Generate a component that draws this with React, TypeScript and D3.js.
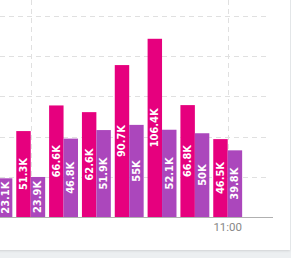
import React from "react";
import * as d3 from "d3";

const categories = ["09:50", "10:00", "10:10", "10:20", "10:30", "10:40", "10:50", "11:00"];
const seriesNames = ["inbound", "outbound"];
const inboundK = [45, 51.3, 66.6, 62.6, 90.7, 106.4, 66.8, 46.5];
const outboundK = [23.1, 23.9, 46.8, 51.9, 55, 52.1, 50, 39.8];
const yTicks = [0, 24, 48, 72, 96, 120];
const xTickLabels = ["10:00", "11:00"];
const shownXLabels = ["11:00"];

const W = 291;
const H = 258;
const colors = ["#e6007e", "#ab47bc"];

export default function App() {
  const step = 32.83;
  const lastCenter = 227.7;
  const x0 = lastCenter - (categories.length - 0.5) * step;
  const x = d3
    .scaleBand<string>()
    .domain(categories)
    .range([x0, x0 + categories.length * step])
    .paddingInner(0.12)
    .paddingOuter(0.06);
  const xs = d3.scaleBand<string>().domain(seriesNames).range([0, x.bandwidth()]);
  const y = d3.scaleLinear().domain([0, 120]).range([217, 16]);
  const series = [inboundK, outboundK];

  return (
    <svg
      width={W}
      height={H}
      style={{ position: "absolute", left: 0, top: 0 }}
    >
      <defs>
        <filter id="sh" x="-10%" y="-10%" width="120%" height="120%">
          <feDropShadow dx="0" dy="1" stdDeviation="1" floodColor="#000" floodOpacity="0.12" />
        </filter>
        <clipPath id="clip">
          <rect x={0} y={0} width={290} height={250} />
        </clipPath>
      </defs>
      <rect x={0} y={0} width={W} height={H} fill="#eceff1" />
      <rect x={-10} y={-10} width={300} height={260} fill="#fff" filter="url(#sh)" />
      <g clipPath="url(#clip)">
        {yTicks.slice(1).map((t) => (
          <line
            key={t}
            x1={0}
            x2={268}
            y1={Math.round(y(t)) + 0.5}
            y2={Math.round(y(t)) + 0.5}
            stroke="#e0e0e0"
            strokeWidth={1}
            strokeDasharray="5 4"
          />
        ))}
        {xTickLabels.map((c) => {
          const cx = Math.round((x(c) ?? 0) + x.bandwidth() / 2) + 0.5;
          return (
            <line
              key={c}
              x1={cx}
              x2={cx}
              y1={0}
              y2={217}
              stroke="#e0e0e0"
              strokeWidth={1}
              strokeDasharray="5 4"
            />
          );
        })}
        {categories.map((c, i) => (
          <g key={c} transform={`translate(${x(c)},0)`}>
            {series.map((vals, s) => {
              const v = vals[i];
              const bx = xs(seriesNames[s]) ?? 0;
              const bw = xs.bandwidth();
              const top = y(v);
              const cy = (top + y(0)) / 2;
              return (
                <g key={s}>
                  <rect x={bx} y={top} width={bw} height={y(0) - top} fill={colors[s]} />
                  <text
                    transform={`translate(${bx + bw / 2},${cy}) rotate(-90)`}
                    textAnchor="middle"
                    dominantBaseline="central"
                    fill="#fff"
                    fontSize={11}
                    fontWeight="bold"
                    fontFamily="'Liberation Sans Narrow', 'DejaVu Sans Condensed', sans-serif"
                  >
                    {`${v}K`}
                  </text>
                </g>
              );
            })}
          </g>
        ))}
        <line x1={0} x2={273} y1={217.5} y2={217.5} stroke="#b0b0b0" strokeWidth={1} />
        {shownXLabels.map((c) => (
          <text
            key={c}
            x={(x(c) ?? 0) + x.bandwidth() / 2}
            y={231}
            textAnchor="middle"
            fill="#888"
            fontSize={11.5}
            fontFamily="Roboto, 'Liberation Sans', sans-serif"
          >
            {c}
          </text>
        ))}
      </g>
    </svg>
  );
}
